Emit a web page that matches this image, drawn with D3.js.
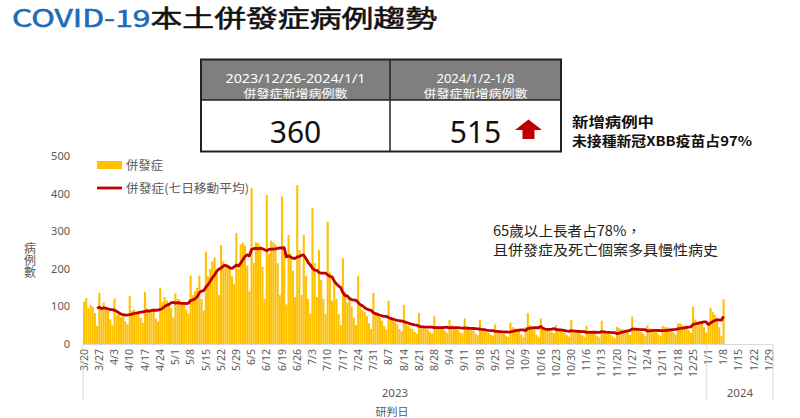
<!DOCTYPE html>
<html><head><meta charset="utf-8">
<script src="https://cdn.jsdelivr.net/npm/d3@7"></script>
<style>
body{margin:0;background:#fff;}
svg{display:block;font-family:"Noto Sans CJK TC","Noto Sans",sans-serif;}
</style></head><body>
<svg id="chart" width="800" height="418"></svg>
<script>
// ---- data ----
const startDate = new Date(2023, 2, 20);   // first category 2023/3/20
const endDate = new Date(2024, 0, 31);     // axis runs through 2024/1/30
// daily cases (併發症), 2023/3/20 .. 2024/1/8, one row per week (Mon..Sun)
const dailyCases = [
  112,122,96,104,99,82,48,
  136,95,110,96,88,66,50,
  121,78,82,72,76,60,52,
  128,88,92,80,84,70,56,
  139,95,88,92,90,68,60,
  150,112,125,115,108,95,70,
  135,120,118,112,106,92,80,
  182,130,140,150,182,120,90,
  245,180,200,220,230,190,130,
  263,220,210,205,200,180,160,
  295,200,265,270,262,208,140,
  415,215,270,268,262,205,120,
  396,240,275,270,265,215,130,
  392,245,105,290,240,195,125,
  423,250,130,290,180,120,80,
  361,215,125,250,170,120,80,
  325,190,115,170,120,80,50,
  228,140,110,120,100,70,50,
  181,100,90,85,75,55,40,
  136,85,75,70,62,48,38,
  115,68,62,58,52,40,33,
  104,55,48,44,40,32,27,
  83,48,45,40,38,32,28,
  74,48,45,40,40,35,30,
  64,50,45,42,38,30,28,
  68,45,42,40,36,28,24,
  64,38,36,33,30,25,22,
  52,36,34,30,28,22,19,
  57,45,42,40,35,25,18,
  45,82,50,45,38,25,18,
  68,45,40,38,37,32,28,
  50,40,36,34,30,24,20,
  64,35,32,30,28,23,19,
  48,36,33,32,28,22,18,
  62,32,28,28,25,20,15,
  46,42,40,38,35,30,24,
  73,38,36,35,33,28,22,
  50,42,40,37,33,27,21,
  48,45,44,42,38,31,25,
  55,55,50,48,45,37,30,
  99,65,58,60,55,45,30,
  47,96,85,78,70,45,22,
  119
];
const yTicks = [0, 100, 200, 300, 400, 500];
const xTickLabels = ["3/20","3/27","4/3","4/10","4/17","4/24","5/1","5/8","5/15","5/22","5/29",
  "6/5","6/12","6/19","6/26","7/3","7/10","7/17","7/24","7/31","8/7","8/14","8/21","8/28",
  "9/4","9/11","9/18","9/25","10/2","10/9","10/16","10/23","10/30","11/6","11/13","11/20",
  "11/27","12/4","12/11","12/18","12/25","1/1","1/8","1/15","1/22","1/29"];
const years = ["2023", "2024"];
const yearStartLabels = ["3/20", "1/1"];
const tableHeadLine1 = ["2023/12/26-2024/1/1", "2024/1/2-1/8"];
const tableHeadLine2 = ["併發症新增病例數", "併發症新增病例數"];
const tableValues = [360, 515];
const legendNames = ["併發症", "併發症(七日移動平均)"];
const noteRight = ["新增病例中", "未接種新冠XBB疫苗占97%"];
const noteChart = ["65歲以上長者占78%，", "且併發症及死亡個案多具慢性病史"];

// ---- setup ----
const svg = d3.select("#chart");
const fmt = d3.timeFormat("%Y-%m-%d");
const days = d3.timeDay.range(startDate, endDate);
const cats = days.map(fmt);

const x = d3.scaleBand().domain(cats).range([83, 772.5]).paddingInner(0.05).paddingOuter(0.02);
const y = d3.scaleLinear().domain([0, 500]).range([344, 156]);
const bw = x.bandwidth();
const cx = i => x(cats[i]) + bw / 2;

const bars = dailyCases.map((v, i) => ({cat: cats[i], v}));
const ma = [];
for (let i = 6; i < dailyCases.length; i++) {
  ma.push({i, v: d3.mean(dailyCases.slice(i - 6, i + 1))});
}
const fit = (sel, w) => sel.attr("textLength", w).attr("lengthAdjust", "spacingAndGlyphs");

// ---- title ----
const title = svg.append("text").attr("x", 12).attr("y", 27)
  .style("font-size", "24px").style("font-weight", 400).attr("stroke-width", 0.55);
title.append("tspan").attr("fill", "#1B6DB8").attr("stroke", "#1B6DB8").text("COVID-19");
title.append("tspan").attr("fill", "#111").attr("stroke", "#111").text("本土併發症病例趨勢");
fit(title, 425);

// ---- table ----
const tX = [201, 390, 561];
const tY = [59.5, 100, 151.5];
const headW1 = [140, 78];
const tbl = svg.append("g");
[0, 1].forEach(c => {
  tbl.append("rect").attr("x", tX[c]).attr("y", tY[0]).attr("width", tX[c + 1] - tX[c]).attr("height", tY[1] - tY[0])
    .attr("fill", "#7F7F7F");
  const cxm = (tX[c] + tX[c + 1]) / 2;
  fit(tbl.append("text").attr("x", cxm).attr("y", 82.5).attr("text-anchor", "middle").attr("fill", "#fff")
    .style("font-size", "13px").style("font-family", "'Noto Sans',sans-serif").text(tableHeadLine1[c]), headW1[c]);
  fit(tbl.append("text").attr("x", cxm).attr("y", 98).attr("text-anchor", "middle").attr("fill", "#fff")
    .style("font-size", "11.5px").text(tableHeadLine2[c]), 104);
});
const numX = [295.5, 475.5];
tableValues.forEach((v, i) => {
  tbl.append("text").attr("x", numX[i]).attr("y", 143).attr("text-anchor", "middle").attr("fill", "#111")
    .style("font-size", "30px").style("font-family", "'Noto Sans',sans-serif").text(v);
});
tbl.append("path").attr("fill", "#C00000")
  .attr("d", "M528.5,119.5 L542,130 L534.5,130 L534.5,139 L522.5,139 L522.5,130 L515,130 Z");
tbl.append("rect").attr("x", tX[0]).attr("y", tY[0]).attr("width", tX[2] - tX[0]).attr("height", tY[2] - tY[0])
  .attr("fill", "none").attr("stroke", "#222").attr("stroke-width", 2);
tbl.append("line").attr("x1", tX[1]).attr("x2", tX[1]).attr("y1", tY[0]).attr("y2", tY[2]).attr("stroke", "#222").attr("stroke-width", 1.5);
tbl.append("line").attr("x1", tX[0]).attr("x2", tX[2]).attr("y1", tY[1]).attr("y2", tY[1]).attr("stroke", "#222").attr("stroke-width", 1.5);

const noteRightW = [82, 180];
noteRight.forEach((t, i) => {
  fit(svg.append("text").attr("x", 572).attr("y", 126.5 + i * 19).attr("fill", "#111")
    .style("font-size", "13.5px").style("font-weight", 700).text(t), noteRightW[i]);
});

// ---- bars ----
svg.append("g").selectAll("rect").data(bars).join("rect")
  .attr("x", d => x(d.cat)).attr("width", bw)
  .attr("y", d => y(d.v)).attr("height", d => y(0) - y(d.v))
  .attr("fill", "#FFC000");

// ---- MA line ----
svg.append("path").datum(ma)
  .attr("fill", "none").attr("stroke", "#C00000").attr("stroke-width", 2.8)
  .attr("stroke-linejoin", "round")
  .attr("d", d3.line().x(d => cx(d.i)).y(d => y(d.v)));

// ---- axes ----
const axisColor = "#D9D9D9";
svg.append("line").attr("x1", 83).attr("x2", 773).attr("y1", 344.5).attr("y2", 344.5).attr("stroke", axisColor);
const yAxis = svg.append("g").attr("transform", "translate(70,0)")
  .call(d3.axisLeft(y).tickValues(yTicks).tickSize(0).tickPadding(0));
yAxis.select(".domain").remove();
yAxis.selectAll("text").attr("fill", "#595959").style("font-size", "11px")
  .style("font-family", "'Noto Sans',sans-serif");

const xTickCats = xTickLabels.map((l, i) => cats[i * 7]);
const xAxis = svg.append("g").attr("transform", "translate(0,344)")
  .call(d3.axisBottom(x).tickValues(xTickCats).tickSize(0).tickFormat((d, i) => xTickLabels[i]));
xAxis.select(".domain").remove();
xAxis.selectAll("text").attr("fill", "#595959").style("font-size", "10.5px")
  .style("font-family", "'Noto Sans',sans-serif")
  .attr("text-anchor", "end").attr("transform", "rotate(-90)")
  .attr("x", -5).attr("y", 0).attr("dy", "0.35em");

// year groups
const yearBounds = [83, x(cats[xTickLabels.indexOf(yearStartLabels[1]) * 7]) - 0.5, 773];
yearBounds.forEach(b => {
  svg.append("line").attr("x1", b).attr("x2", b).attr("y1", 344).attr("y2", 400).attr("stroke", axisColor);
});
years.forEach((yr, i) => {
  svg.append("text").attr("x", (yearBounds[i] + yearBounds[i + 1]) / 2).attr("y", 397)
    .attr("text-anchor", "middle").attr("fill", "#595959").style("font-size", "11.5px")
    .style("font-family", "'Noto Sans',sans-serif").text(yr);
});
svg.append("text").attr("x", 392).attr("y", 416).attr("text-anchor", "middle").attr("fill", "#595959")
  .style("font-size", "11px").text("研判日");

// y title (vertical)
svg.append("text").attr("x", 30).attr("y", 242).attr("writing-mode", "tb")
  .attr("fill", "#595959").style("font-size", "12px").text("病例數");

// legend
svg.append("rect").attr("x", 97).attr("y", 161).attr("width", 25).attr("height", 8).attr("fill", "#FFC000");
fit(svg.append("text").attr("x", 126).attr("y", 169.5).attr("fill", "#595959").style("font-size", "12px").text(legendNames[0]), 37);
svg.append("line").attr("x1", 97).attr("x2", 122).attr("y1", 188).attr("y2", 188).attr("stroke", "#C00000").attr("stroke-width", 2.8);
fit(svg.append("text").attr("x", 126).attr("y", 192.5).attr("fill", "#595959").style("font-size", "12px").text(legendNames[1]), 123);

// chart note
const noteChartW = [148, 225];
noteChart.forEach((t, i) => {
  fit(svg.append("text").attr("x", 493).attr("y", 236 + i * 18.5).attr("fill", "#222")
    .style("font-size", "14px").text(t), noteChartW[i]);
});
</script></body></html>
